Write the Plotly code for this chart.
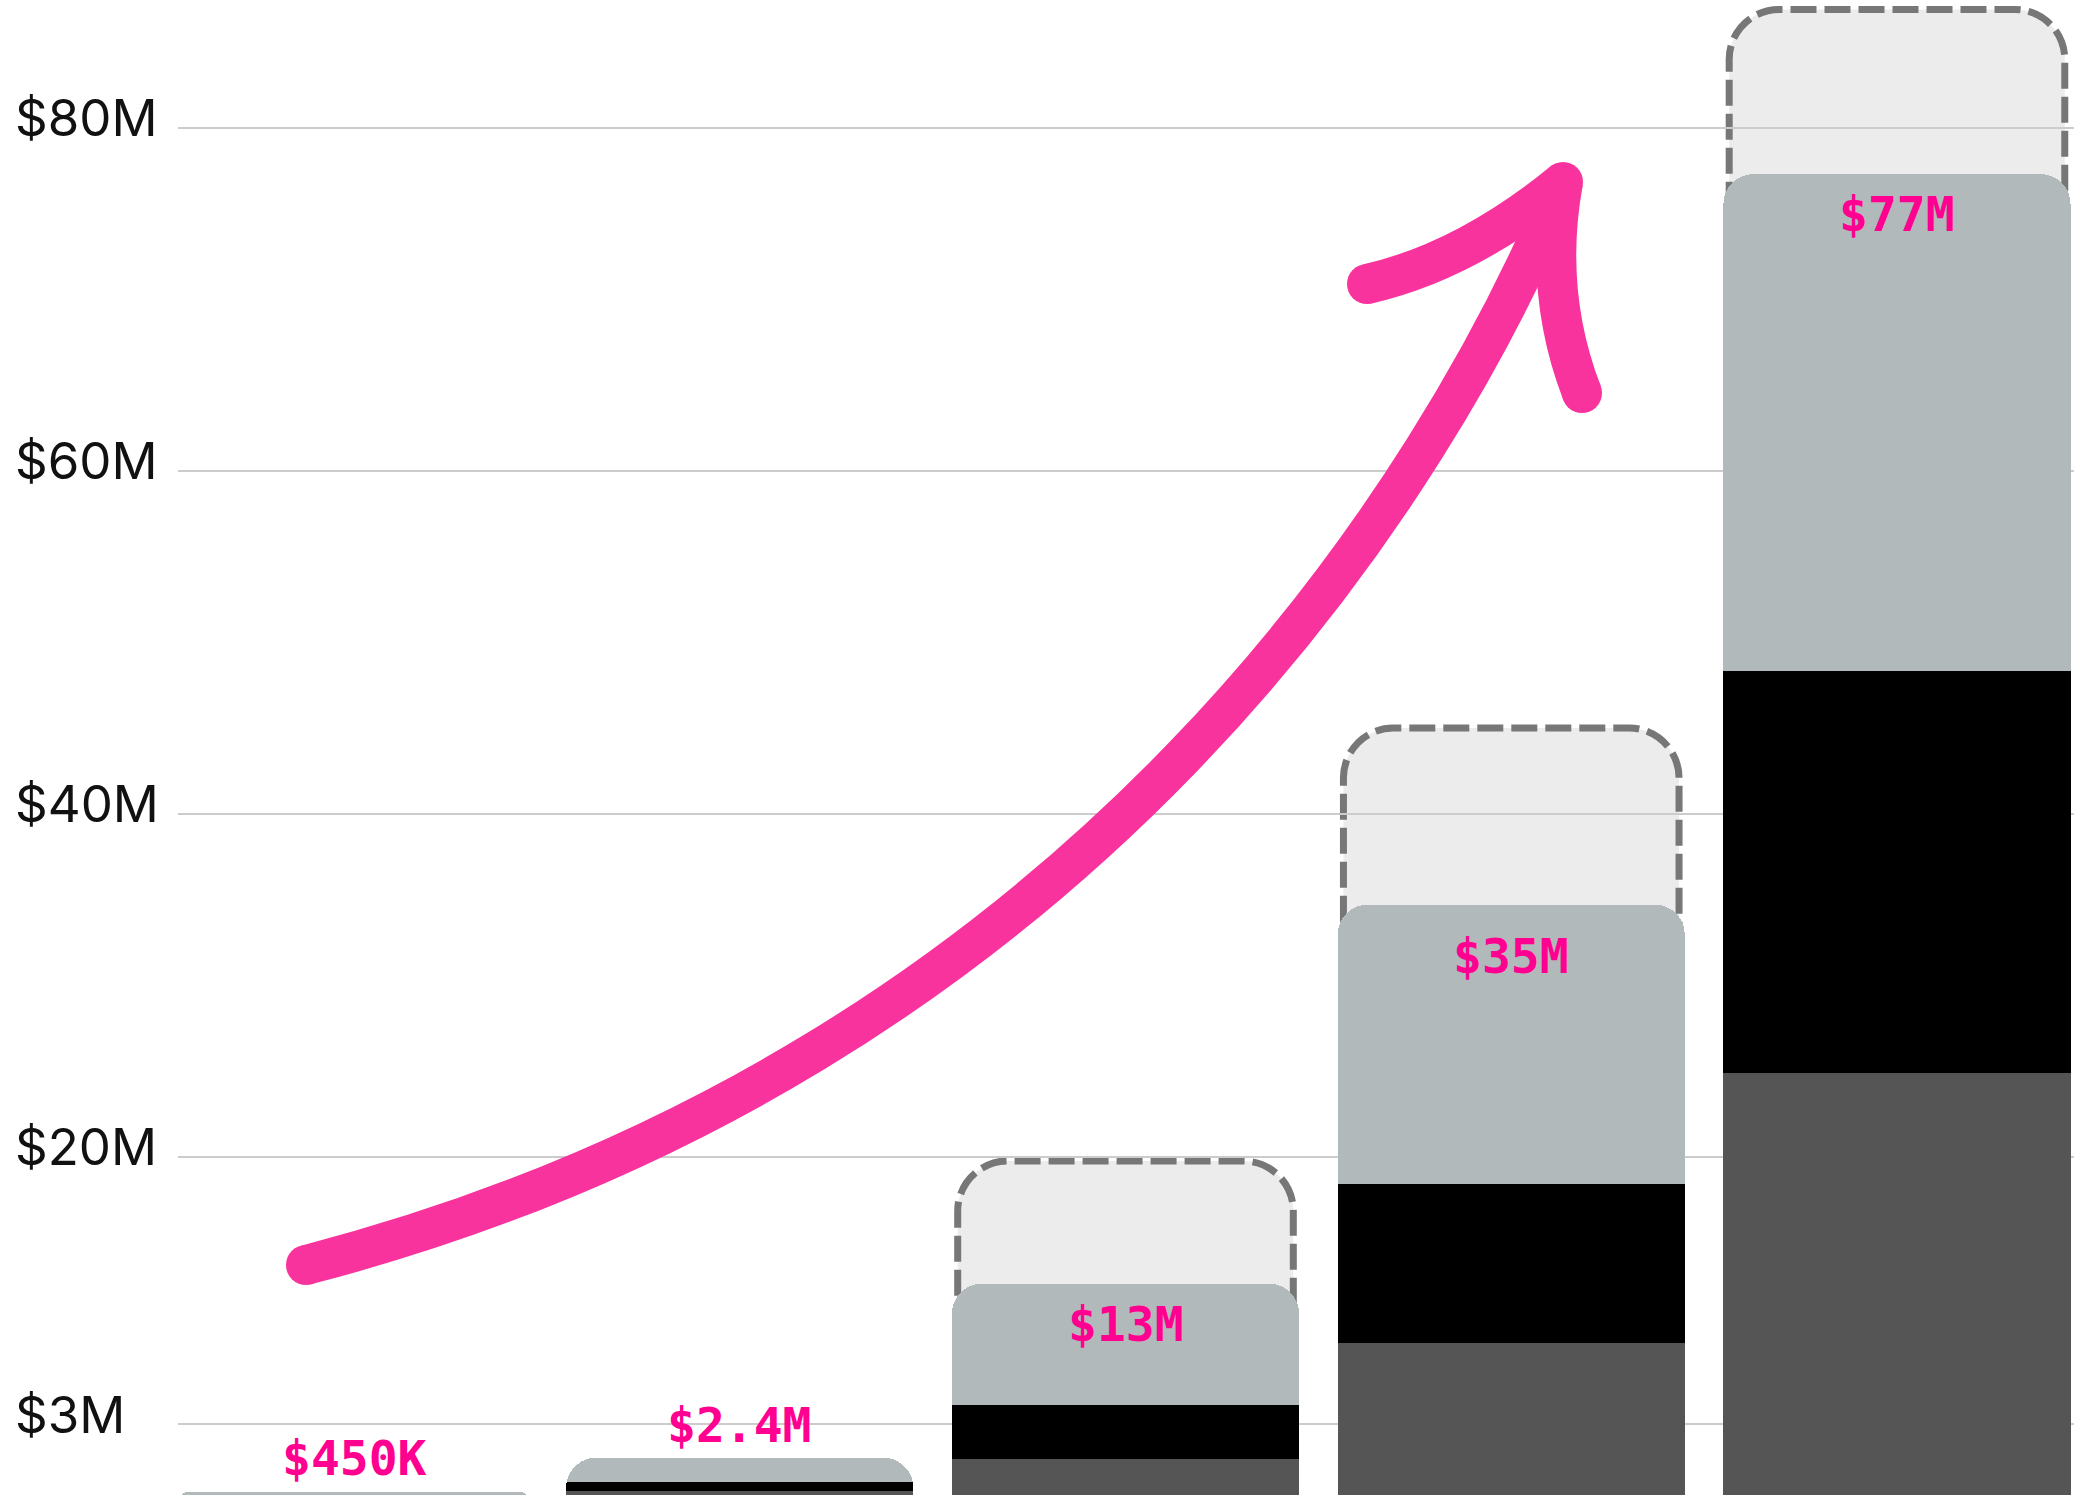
import plotly.graph_objects as go

# ---------------- data ($M) ----------------
periods = ["P1", "P2", "P3", "P4", "P5"]
base_vals = [0.25, 0.5, 2.4, 9.15, 24.9]     # dark grey segment
mid_vals = [0.03, 0.55, 3.1, 9.25, 23.4]     # black segment
top_vals = [0.19, 1.4, 7.1, 16.3, 29.0]      # light grey segment
projected = [None, None, 19.75, 45.0, 86.9]  # dashed projection outline
labels = ["$450K", "$2.4M", "$13M", "$35M", "$77M"]
ytick_vals = [4.4, 20, 40, 60, 80]
ytick_text = ["$3M", "$20M", "$40M", "$60M", "$80M"]

# ---------------- layout constants ----------------
W, H = 2074, 1495
L = 178
PW = W - L
XR = [-0.4563, 4.4589]
YR = [0.274, 87.45]
label_shift = [34, 33, -40, -51, -40]
PINK_TXT = "#ff0090"
PINK_ARROW = "#f9339d"

xs = list(range(len(periods)))
totals = [a + b + c for a, b, c in zip(base_vals, mid_vals, top_vals)]

fig = go.Figure()
for vals, color, name in [(base_vals, "#555555", "base"),
                          (mid_vals, "#000000", "mid"),
                          (top_vals, "#b1b9bb", "top")]:
    fig.add_bar(x=xs, y=vals, width=0.9, name=name,
                marker=dict(color=color, line=dict(width=0), cornerradius=30),
                hoverinfo="skip")

# x / y units per pixel
ux = (XR[1] - XR[0]) / PW
uy = (YR[1] - YR[0]) / H

shapes = []
# dashed projection boxes
k = 0.5523
rx = 50 * ux
ry = 50 * uy
hw = 0.435
for i, p in enumerate(projected):
    if p is None:
        continue
    x0, x1 = xs[i] - hw, xs[i] + hw
    path = (f"M {x0},0 L {x0},{p - ry} "
            f"C {x0},{p - ry + k * ry} {x0 + rx - k * rx},{p} {x0 + rx},{p} "
            f"L {x1 - rx},{p} "
            f"C {x1 - rx + k * rx},{p} {x1},{p - ry + k * ry} {x1},{p - ry} "
            f"L {x1},0 Z")
    shapes.append(dict(type="path", xref="x", yref="y", path=path,
                       fillcolor="#ececec",
                       line=dict(color="#777777", width=7, dash="26px,8px"),
                       layer="below"))


# hand-drawn arrow (decoration), pixel space converted to paper space
def pp(x, y):
    return (x - L) / PW, (H - y) / H


def bez(points):
    P = [pp(*p) for p in points]
    cmd = "C" if len(P) == 4 else "Q"
    s = f"M {P[0][0]},{P[0][1]} {cmd}"
    for q in P[1:]:
        s += f" {q[0]},{q[1]}"
    return s


tip = (1563, 182)
shaft = [(306, 1265), (1085, 1063), (1442, 478), tip]
head_left = [(1367, 284), (1465, 262), tip]
head_right = [tip, (1543, 292), (1582, 393)]
AW = 40
for pts in (shaft, head_left, head_right):
    shapes.append(dict(type="path", xref="paper", yref="paper",
                       path=bez(pts),
                       line=dict(color=PINK_ARROW, width=AW), layer="above"))
for (cx, cy) in [shaft[0], head_left[0], head_right[-1], tip]:
    a = pp(cx - AW / 2, cy + AW / 2)
    b = pp(cx + AW / 2, cy - AW / 2)
    shapes.append(dict(type="circle", xref="paper", yref="paper",
                       x0=a[0], y0=a[1], x1=b[0], y1=b[1],
                       fillcolor=PINK_ARROW, line=dict(width=0), layer="above"))

annotations = []
for i, (t, lab) in enumerate(zip(totals, labels)):
    annotations.append(dict(x=xs[i], y=t, xref="x", yref="y", text=lab,
                            showarrow=False, yshift=label_shift[i],
                            xanchor="center", yanchor="middle",
                            font=dict(family="DejaVu Sans Mono", size=48,
                                      color=PINK_TXT, weight="bold")))
for v, t in zip(ytick_vals, ytick_text):
    annotations.append(dict(x=(13 - L) / PW, y=v, xref="paper", yref="y",
                            text=t, showarrow=False, xanchor="left",
                            yanchor="middle", yshift=10,
                            font=dict(family="Inter", size=51, color="#111111")))

fig.update_layout(
    width=W, height=H,
    margin=dict(l=L, r=0, t=0, b=0),
    barmode="stack", barcornerradius=30,
    showlegend=False,
    plot_bgcolor="white", paper_bgcolor="white",
    xaxis=dict(range=XR, showgrid=False, zeroline=False,
               showticklabels=False, tickvals=xs, ticktext=periods,
               showline=False),
    yaxis=dict(range=YR, tickvals=ytick_vals, ticktext=ytick_text,
               showticklabels=False, showgrid=True, gridcolor="#cccccc",
               gridwidth=1.5, zeroline=False, showline=False),
    shapes=shapes, annotations=annotations,
)

fig.write_html("out.html")
